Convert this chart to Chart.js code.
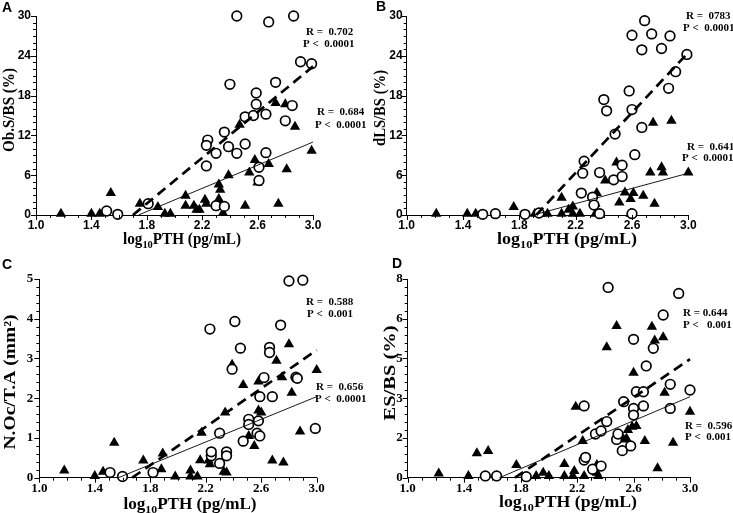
<!DOCTYPE html>
<html>
<head>
<meta charset="utf-8">
<script src="https://cdn.jsdelivr.net/npm/chart.js@4.4.1/dist/chart.umd.min.js"></script>
<style>
html, body { margin: 0; padding: 0; background: #fff; }
#wrap { position: relative; width: 733px; height: 513px; overflow: hidden; }
canvas { position: absolute; }
</style>
</head>
<body>
<div id="wrap">
  <canvas id="cA" width="366" height="256" style="left:0;top:0"></canvas>
  <canvas id="cB" width="367" height="256" style="left:366px;top:0"></canvas>
  <canvas id="cC" width="366" height="257" style="left:0;top:256px"></canvas>
  <canvas id="cD" width="367" height="257" style="left:366px;top:256px"></canvas>
</div>
<script>
// shared x axis
const xTicks = [1.0, 1.4, 1.8, 2.2, 2.6, 3.0];

// A: Ob.S/BS (%)
const aTriX = [1.18,1.40,1.46,1.54,1.75,1.88,1.93,1.97,2.08,2.08,2.14,2.16,2.18,2.22,2.23,2.32,2.33,2.32,2.33,2.35,2.39,2.47,2.51,2.54,2.58,2.60,2.68,2.73,2.75,2.80,2.81,2.87,2.99];
const aTriY = [0.2,0.2,0.2,3.3,1.7,1.2,0.2,0.2,2.9,1.4,1.4,0.8,0.8,2.3,1.7,4.6,3.8,2.4,1.7,0.3,6.0,13.6,1.4,6.4,8.3,4.9,7.7,16.9,1.7,16.7,6.9,13.3,9.7];
const aCirX = [1.51,1.59,1.81,2.24,2.23,2.23,2.30,2.30,2.36,2.36,2.39,2.40,2.45,2.45,2.51,2.51,2.57,2.59,2.59,2.61,2.61,2.66,2.66,2.68,2.73,2.80,2.85,2.86,2.91,2.99];
const aCirY = [0.6,0.1,1.7,11.3,10.5,7.4,9.3,1.4,1.3,12.5,10.3,19.7,30,9.3,14.8,10.7,15.0,16.7,18.4,5.2,7.2,15.2,9.4,29.1,20.0,14.2,16.5,30,23.1,22.8];
const aDashX = [1.70, 3.0], aDashY = [0, 22.4];
const aLineX = [1.74, 3.0], aLineY = [0, 11.0];
const aYTicks = [0, 6, 12, 18, 24, 30];

// B: dLS/BS (%)
const bTriX = [1.21,1.43,1.49,1.76,1.91,1.95,2.00,2.10,2.10,2.15,2.18,2.18,2.23,2.35,2.34,2.34,2.41,2.49,2.51,2.55,2.59,2.61,2.59,2.68,2.73,2.75,2.76,2.81,2.82,2.88,3.00];
const bTriY = [0.2,0.2,0.2,1.2,0.2,0.2,0.2,2.6,0.2,0.8,1.3,0.2,0.2,3.3,1.7,0.2,5.2,7.9,1.9,3.4,2.4,3.3,0.2,2.9,6.4,13.9,1.7,7.2,6.4,14.2,6.4];
const bCirX = [1.54,1.63,1.84,1.94,2.24,2.25,2.26,2.32,2.33,2.37,2.37,2.40,2.42,2.47,2.48,2.53,2.53,2.58,2.60,2.60,2.62,2.60,2.67,2.67,2.69,2.74,2.81,2.86,2.87,2.91,2.99];
const bCirY = [0.1,0.2,0.1,0.3,3.3,6.3,8.1,2.7,1.5,6.4,0.2,17.4,15.7,5.3,12.2,7.5,5.8,18.7,15.9,27.1,9.1,0.2,13.2,24.9,29.3,27.3,25.1,19.1,27.0,21.6,24.2];
const bDashX = [1.92, 3.0], bDashY = [0, 24.5];
const bLineX = [1.90, 3.0], bLineY = [0, 6.3];
const bYTicks = [0, 6, 12, 18, 24, 30];

// C: N.Oc/T.A (mm2)
const cTriX = [1.18,1.40,1.46,1.54,1.75,1.89,1.88,1.98,2.09,2.09,2.14,2.16,2.17,2.23,2.22,2.33,2.34,2.35,2.39,2.47,2.51,2.55,2.58,2.58,2.60,2.68,2.71,2.75,2.76,2.80,2.82,2.88,3.00];
const cTriY = [0.18,0.04,0.15,0.88,0.43,0.61,0.21,0.03,0.18,0.03,0.03,0.44,1.13,0.34,0.43,0.15,1.64,0.13,2.84,2.33,1.05,0.80,2.42,1.69,1.64,0.43,2.94,2.53,0.38,3.36,2.14,1.16,2.71];
const cCirX = [1.51,1.60,1.82,2.23,2.24,2.24,2.30,2.30,2.35,2.35,2.39,2.41,2.45,2.47,2.51,2.51,2.57,2.58,2.59,2.59,2.62,2.66,2.66,2.68,2.74,2.80,2.85,2.86,2.90,2.99];
const cCirY = [0.13,0.03,0.13,3.74,0.55,0.65,0.36,1.12,0.65,0.55,2.73,3.93,3.26,0.92,1.47,1.34,1.12,1.43,1.05,2.04,2.52,3.28,3.15,2.04,3.84,4.95,2.53,2.50,4.97,1.24];
const cDashX = [1.67, 3.0], cDashY = [0, 3.21];
const cLineX = [1.57, 3.0], cLineY = [0, 2.04];
const cYTicks = [0, 1, 2, 3, 4, 5];

// D: ES/BS (%)
const dTriX = [1.22,1.43,1.49,1.57,1.77,1.91,1.96,2.00,2.11,2.11,2.18,2.17,2.19,2.24,2.25,2.34,2.34,2.35,2.41,2.48,2.53,2.55,2.56,2.60,2.59,2.62,2.68,2.73,2.75,2.77,2.81,2.82,2.88,3.00];
const dTriY = [0.17,0.07,0.98,1.07,0.51,0.07,0.20,0.07,0.55,0.07,0.27,0.07,2.86,1.48,0.07,0.51,0.20,0.07,5.25,6.11,1.54,1.58,1.92,4.23,2.05,2.08,1.48,6.08,5.52,0.38,5.65,3.42,1.41,2.66];
const dCirX = [1.55,1.63,1.84,2.25,2.25,2.26,2.31,2.33,2.37,2.37,2.41,2.42,2.48,2.49,2.52,2.53,2.58,2.60,2.60,2.60,2.62,2.67,2.67,2.69,2.74,2.81,2.86,2.86,2.92,3.00];
const dCirY = [0.07,0.07,0.04,2.89,0.71,0.82,0.34,1.76,0.47,1.88,2.26,7.66,1.54,1.76,1.09,3.06,1.28,5.57,2.79,2.52,3.46,2.89,3.46,4.50,5.21,6.55,3.76,2.79,7.42,3.53];
const dDashX = [1.76, 3.0], dDashY = [0, 4.77];
const dLineX = [1.65, 3.0], dLineY = [0, 3.26];
const dYTicks = [0, 1.6, 3.2, 4.8, 6.4, 8];

function pts(xs, ys) {
    return xs.map((x, i) => ({ x: x, y: ys[i] }));
}

function fitText(ctx, text, x, y, font, len, rotate) {
    ctx.save();
    ctx.translate(x, y);
    if (rotate) ctx.rotate(-Math.PI / 2);
    ctx.font = font;
    const w = ctx.measureText(text).width;
    ctx.scale(len / w, 1);
    ctx.textAlign = "center";
    ctx.textBaseline = "middle";
    ctx.fillText(text, 0, 0);
    ctx.restore();
}

// log10PTH (pg/mL) with subscript, squeezed to a given width
function drawXTitle(ctx, cx, cy, len) {
    const big = "bold 16px 'Liberation Serif'";
    const small = "bold 11px 'Liberation Serif'";
    ctx.save();
    ctx.font = big;
    const w1 = ctx.measureText("log").width;
    const w3 = ctx.measureText("PTH (pg/mL)").width;
    ctx.font = small;
    const w2 = ctx.measureText("10").width;
    const total = w1 + w2 + w3;
    ctx.translate(cx, cy);
    ctx.scale(len / total, 1);
    ctx.textBaseline = "middle";
    ctx.textAlign = "left";
    let x0 = -total / 2;
    ctx.font = big;
    ctx.fillText("log", x0, 0);
    ctx.font = small;
    ctx.fillText("10", x0 + w1, 5);
    ctx.font = big;
    ctx.fillText("PTH (pg/mL)", x0 + w1 + w2, 0);
    ctx.restore();
}

const deco = {
    id: "deco",
    afterDraw(chart) {
        const p = chart.options.plugins.deco;
        const { ctx, chartArea } = chart;
        const xs = chart.scales.x, ys = chart.scales.y;
        ctx.save();
        ctx.strokeStyle = "#000";
        ctx.fillStyle = "#000";
        ctx.lineWidth = 1;
        ctx.beginPath();
        // x ticks, minor every 0.1
        for (let i = 0; i <= 20; i++) {
            const px = Math.round(xs.getPixelForValue(1 + i / 10)) + 0.5;
            const len = (i % 4 === 0) ? 5 : 3;
            ctx.moveTo(px, chartArea.bottom);
            ctx.lineTo(px, chartArea.bottom + len);
        }
        // y ticks
        const n = Math.round(p.yMax / p.yMinor);
        for (let i = 0; i <= n; i++) {
            const py = Math.round(ys.getPixelForValue(i * p.yMinor)) + 0.5;
            const len = (i % p.yPer === 0) ? 5 : 3;
            ctx.moveTo(chartArea.left - len, py);
            ctx.lineTo(chartArea.left, py);
        }
        ctx.stroke();

        // panel letter
        ctx.font = "bold 14px 'Liberation Sans'";
        ctx.textAlign = "center";
        ctx.textBaseline = "middle";
        ctx.fillText(p.letter, p.letterX, p.letterY);

        // axis titles
        fitText(ctx, p.yTitle, p.yTitleX, p.yTitleY, "bold 16px 'Liberation Serif'", p.yTitleLen, true);
        drawXTitle(ctx, p.xTitleX, p.xTitleY, p.xTitleLen);

        // R / P notes
        ctx.font = "bold 11px 'Liberation Serif'";
        ctx.textAlign = "left";
        ctx.textBaseline = "middle";
        for (const note of p.notes) {
            ctx.fillText(note[0], note[1], note[2]);
        }
        ctx.restore();
    }
};

function makePanel(id, p) {
    const el = document.getElementById(id);
    const W = el.width, H = el.height;
    const tickFont = p.serif
        ? { family: "'Liberation Serif'", size: 13, weight: "bold" }
        : { family: "'Liberation Sans'", size: 12, weight: "bold" };
    return new Chart(el, {
        type: "scatter",
        data: {
            datasets: [
                { type: "line", data: pts(p.dashX, p.dashY), borderColor: "#000", borderWidth: 2.7, borderDash: [10, 6], pointRadius: 0, fill: false, clip: false },
                { type: "line", data: pts(p.lineX, p.lineY), borderColor: "#000", borderWidth: 0.9, pointRadius: 0, fill: false, clip: false },
                { data: pts(p.cirX, p.cirY), pointStyle: "circle", pointRadius: 4.8, backgroundColor: "#fff", borderColor: "#000", borderWidth: 1.7, clip: false },
                { data: pts(p.triX, p.triY), pointStyle: "triangle", pointRadius: 6, backgroundColor: "#000", borderColor: "#000", borderWidth: 0, clip: false }
            ]
        },
        options: {
            responsive: false,
            animation: false,
            devicePixelRatio: 1,
            events: [],
            layout: { padding: { left: 0, top: p.t, right: W - p.r, bottom: 0 } },
            plugins: {
                legend: { display: false },
                tooltip: { enabled: false },
                deco: p
            },
            scales: {
                x: {
                    type: "linear",
                    min: 1, max: 3,
                    afterBuildTicks: (s) => { s.ticks = xTicks.map(v => ({ value: v })); },
                    afterFit: (s) => { s.height = H - p.b; },
                    grid: { display: false, drawTicks: false },
                    border: { display: true, color: "#000", width: 1 },
                    ticks: { color: "#000", font: tickFont, padding: 3, autoSkip: false, maxRotation: 0, callback: (v) => Number(v).toFixed(1) }
                },
                y: {
                    type: "linear",
                    min: 0, max: p.yMax,
                    afterBuildTicks: (s) => { s.ticks = p.yTicks.map(v => ({ value: v })); },
                    afterFit: (s) => { s.width = p.l; },
                    grid: { display: false, drawTicks: false },
                    border: { display: true, color: "#000", width: 1 },
                    ticks: { color: "#000", font: tickFont, padding: p.yPad, autoSkip: false, callback: (v) => String(Math.round(v)) }
                }
            }
        },
        plugins: [deco]
    });
}

makePanel("cA", {
    l: 36, t: 16, r: 313, b: 215, serif: false, yPad: 5,
    triX: aTriX, triY: aTriY, cirX: aCirX, cirY: aCirY,
    dashX: aDashX, dashY: aDashY, lineX: aLineX, lineY: aLineY,
    yMax: 30, yTicks: aYTicks, yMinor: 1, yPer: 6,
    letter: "A", letterX: 7, letterY: 8,
    yTitle: "Ob.S/BS (%)", yTitleX: 10, yTitleY: 110, yTitleLen: 84,
    xTitleX: 182, xTitleY: 240, xTitleLen: 118,
    notes: [["R =  0.702", 306, 32], ["P <  0.0001", 303, 44], ["R =  0.684", 317, 112], ["P <  0.0001", 315, 125]]
});

makePanel("cB", {
    l: 40.7, t: 16, r: 322.3, b: 215, serif: false, yPad: 4,
    triX: bTriX, triY: bTriY, cirX: bCirX, cirY: bCirY,
    dashX: bDashX, dashY: bDashY, lineX: bLineX, lineY: bLineY,
    yMax: 30, yTicks: bYTicks, yMinor: 1, yPer: 6,
    letter: "B", letterX: 15, letterY: 7,
    yTitle: "dLS/BS (%)", yTitleX: 15, yTitleY: 108, yTitleLen: 76,
    xTitleX: 201, xTitleY: 240, xTitleLen: 140,
    notes: [["R =  0783", 320, 16], ["P <  0.0001", 317, 28], ["R =  0.641", 321, 147], ["P <  0.0001", 316, 158]]
});

makePanel("cC", {
    l: 39.3, t: 23, r: 316.7, b: 221.7, serif: true, yPad: 6,
    triX: cTriX, triY: cTriY, cirX: cCirX, cirY: cCirY,
    dashX: cDashX, dashY: cDashY, lineX: cLineX, lineY: cLineY,
    yMax: 5, yTicks: cYTicks, yMinor: 0.2, yPer: 5,
    letter: "C", letterX: 7, letterY: 9,
    yTitle: "N.Oc/T.A (mm\u00B2)", yTitleX: 11, yTitleY: 126, yTitleLen: 135,
    xTitleX: 190, xTitleY: 249, xTitleLen: 133,
    notes: [["R =  0.588", 306, 46], ["P <  0.001", 307, 58], ["R =  0.656", 316, 131], ["P <  0.0001", 315, 143]]
});

makePanel("cD", {
    l: 41.7, t: 23, r: 324, b: 221.7, serif: true, yPad: 5,
    triX: dTriX, triY: dTriY, cirX: dCirX, cirY: dCirY,
    dashX: dDashX, dashY: dDashY, lineX: dLineX, lineY: dLineY,
    yMax: 8, yTicks: dYTicks, yMinor: 0.32, yPer: 5,
    letter: "D", letterX: 31, letterY: 8,
    yTitle: "ES/BS (%)", yTitleX: 25, yTitleY: 117, yTitleLen: 95,
    xTitleX: 202, xTitleY: 247, xTitleLen: 138,
    notes: [["R = 0.644", 317, 57], ["P <   0.001", 317, 69], ["R =  0.596", 319, 170], ["P <  0.001", 319, 181]]
});
</script>
</body>
</html>
